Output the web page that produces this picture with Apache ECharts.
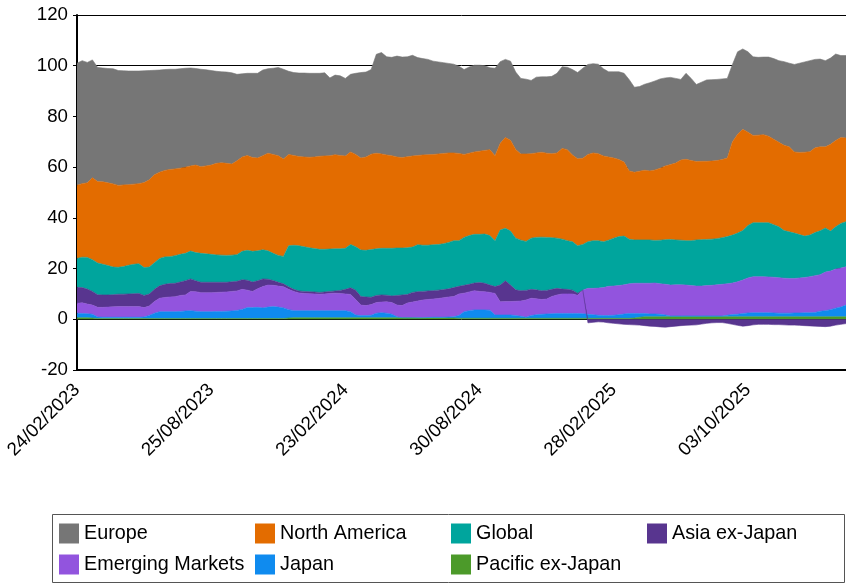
<!DOCTYPE html>
<html>
<head>
<meta charset="utf-8">
<script src="https://cdn.jsdelivr.net/npm/echarts@6/dist/echarts.min.js"></script>
<style>
html,body{margin:0;padding:0;background:#fff;}
#chart{width:846px;height:583px;}
</style>
</head>
<body>
<div id="chart"></div>
<script>
// ---- Data ----
const seriesNames = ['Pacific ex-Japan','Japan','Emerging Markets','Asia ex-Japan','Global','North America','Europe'];
const legendOrder = ['Europe','North America','Global','Asia ex-Japan','Emerging Markets','Japan','Pacific ex-Japan'];
const yTicks = [-20, 0, 20, 40, 60, 80, 100, 120];
const skippedWeeks = ['29/03/2024','18/04/2025','23/05/2025','20/06/2025','18/07/2025','15/08/2025'];

const pacificExJapan = [
0.6,0.6,0.6,0.5,0.3,0.3,0.3,0.3,0.3,0.3,
0.3,0.3,0.3,0.3,0.3,0.3,0.3,0.3,0.3,0.3,
0.3,0.3,0.3,0.3,0.3,0.3,0.3,0.3,0.3,0.3,
0.3,0.3,0.3,0.3,0.3,0.3,0.3,0.3,0.3,0.3,
0.3,0.5,0.6,0.6,0.6,0.6,0.6,0.6,0.6,0.6,
0.6,0.6,0.6,0.6,0.6,0.6,0.6,0.6,0.6,0.6,
0.6,0.6,0.6,0.6,0.6,0.6,0.5,0.5,0.5,0.5,
0.5,0.5,0.5,0.5,0.4,0.4,0.4,0.4,0.4,0.4,
0.4,0.4,0.4,0.4,0.4,0.4,0.4,0.4,0.4,0.4,
0.4,0.4,0.4,0.4,0.4,0.4,0.4,0.4,0.4,0.4,
0.4,0.4,0.4,0.4,0.4,0.4,0.4,0.4,0.5,0.8,
1.0,1.0,1.0,1.0,1.0,1.0,1.0,1.0,1.0,1.0,
1.0,1.0,1.0,1.0,1.0,1.0,1.0,1.0,1.0,1.0,
1.0,1.0,1.0,1.0,1.0,1.0,1.0,1.0,1.0,1.0,
1.0,1.0,1.0,1.0,1.0,1.0,1.0,1.0,1.0,1.0];

const japan = [
1.8,1.7,1.6,1.5,0.6,0.5,0.5,0.5,0.5,0.5,
0.5,0.5,0.5,0.6,1.2,2.1,2.7,2.7,2.7,2.7,
2.8,3.0,3.1,2.9,2.7,2.7,2.7,2.8,2.8,2.9,
3.0,3.2,3.6,4.3,4.3,4.4,4.2,4.5,4.7,4.5,
4.2,3.3,2.8,2.8,2.8,2.8,2.8,2.8,2.8,2.8,
2.8,2.8,2.8,2.4,1.1,0.9,0.9,1.0,1.8,2.0,
1.8,1.4,0.4,0.0,0.0,0.0,0.1,0.1,0.2,0.3,
0.3,0.3,0.4,0.5,1.1,2.6,3.0,3.3,3.3,3.3,
3.2,1.3,1.3,1.3,1.3,1.1,0.8,0.4,1.1,1.4,
1.6,1.7,1.8,1.9,1.9,1.9,1.9,1.9,1.8,1.6,
1.4,1.2,1.1,1.1,1.2,1.4,1.7,1.9,1.8,1.5,
1.3,1.1,1.1,1.0,0.7,0.3,0.3,0.3,0.3,0.3,
0.3,0.3,0.3,0.3,0.3,0.3,0.6,0.9,1.0,1.3,
1.5,1.6,1.6,1.6,1.6,1.5,1.4,1.4,1.4,1.5,
1.5,1.6,1.6,1.7,2.2,2.4,2.8,3.4,3.8,4.6];

const emergingMarkets = [
3.9,4.2,3.8,3.6,3.8,3.9,4.0,4.1,4.2,4.2,
4.2,4.2,4.2,3.7,3.7,4.6,5.3,5.6,5.8,5.9,
6.3,6.3,7.6,7.7,7.5,7.5,7.5,7.5,7.6,7.6,
7.7,7.7,7.9,6.9,6.4,7.3,8.4,8.7,8.4,8.3,
8.3,8.0,7.6,7.0,6.8,6.7,6.6,6.5,6.6,6.8,
6.9,6.8,6.6,6.8,6.1,4.1,3.9,4.2,4.2,4.2,
4.5,4.6,4.6,4.8,5.8,6.2,6.6,7.0,7.1,7.2,
7.4,7.7,7.9,8.0,8.5,7.3,7.4,7.6,7.3,7.2,
7.0,8.5,5.2,5.3,5.3,5.6,6.0,6.8,6.8,6.3,
5.8,5.9,6.8,7.3,7.7,7.7,7.7,7.2,9.3,10.2,
10.4,10.7,11.0,11.5,11.5,11.5,11.5,11.7,11.9,11.9,
11.9,12.1,12.2,12.0,12.1,12.2,12.3,12.3,12.2,12.0,
11.8,11.8,12.0,12.1,12.3,12.5,12.4,12.4,12.8,13.2,
13.8,14.2,14.2,14.2,14.1,14.1,14.0,13.8,13.7,13.6,
13.8,13.9,14.2,14.5,14.4,15.2,15.2,15.4,15.4,15.1];

const asiaExJapan = [
6.3,6.0,5.9,5.4,5.0,4.9,4.8,4.8,4.9,4.9,
5.0,5.1,5.2,4.8,4.8,4.8,4.9,5.2,5.3,5.3,
5.3,5.6,4.9,4.3,4.1,4.1,4.1,4.0,3.9,3.8,
3.8,3.8,3.8,3.9,3.7,3.2,3.0,2.3,1.9,1.5,
1.2,1.0,0.8,0.8,0.8,0.8,0.8,0.7,0.8,0.8,
0.9,1.2,1.8,2.6,3.7,3.4,3.4,2.9,2.8,2.8,
2.6,2.6,3.8,4.2,3.4,3.8,3.7,3.4,3.4,3.3,
3.3,3.2,3.2,3.5,3.0,3.1,3.0,3.0,3.5,3.3,
2.9,2.7,6.6,8.2,6.5,4.5,4.1,3.8,3.5,3.5,
3.5,3.4,2.8,2.6,1.9,1.8,1.5,0.8,0.0,-1.4,
-1.2,-1.0,-1.1,-1.4,-1.6,-1.8,-2.0,-2.1,-2.2,-2.3,
-2.5,-2.7,-2.8,-3.0,-3.1,-2.9,-2.7,-2.5,-2.4,-2.3,
-2.2,-1.9,-1.6,-1.4,-1.3,-1.3,-1.6,-2.0,-2.4,-2.7,
-2.5,-2.2,-2.0,-2.0,-2.0,-2.1,-2.1,-2.2,-2.3,-2.3,
-2.4,-2.5,-2.6,-2.7,-2.8,-2.9,-2.7,-2.3,-2.0,-1.7];

const global = [
11.4,12.0,12.5,12.5,12.5,12.1,11.6,10.9,10.6,10.9,
11.3,11.6,11.7,11.0,10.6,10.5,10.8,10.8,10.6,10.9,
10.9,10.8,11.0,11.1,11.4,11.2,11.0,10.8,10.7,10.6,
10.5,10.5,11.2,11.8,12.1,11.8,11.5,11.2,10.7,10.6,
10.8,16.2,17.4,17.8,17.6,17.3,17.1,17.0,16.8,16.7,
16.6,16.4,16.2,17.1,17.1,18.3,18.4,18.8,18.4,18.4,
18.5,18.8,18.7,18.5,18.4,17.9,18.5,18.2,18.0,18.1,
18.0,18.1,18.3,18.5,18.0,18.9,19.2,19.2,19.0,19.4,
19.5,18.1,21.7,20.7,21.3,20.4,19.9,19.3,20.2,20.7,
21.1,20.9,20.4,19.8,19.7,19.2,19.1,18.7,18.0,18.4,
18.8,18.7,18.1,18.2,18.9,19.3,19.2,17.6,17.1,17.1,
17.1,17.1,16.8,17.2,17.6,18.0,17.7,17.6,17.5,17.7,
18.2,18.3,18.2,18.2,18.2,18.4,18.6,18.9,19.2,19.5,
20.7,21.3,21.3,21.3,21.4,20.7,20.1,18.8,18.4,17.9,
17.1,16.3,16.4,17.0,17.3,17.4,15.8,16.7,17.6,17.8];

const northAmerica = [
28.9,29.0,29.4,32.3,32.1,32.5,32.6,32.8,32.3,32.2,
31.8,31.6,31.6,33.5,34.4,34.7,34.0,34.1,34.4,34.2,
34.0,34.0,33.6,34.5,34.2,34.7,35.2,36.1,36.4,36.3,
35.9,37.0,37.2,37.4,37.0,36.6,37.1,38.5,39.0,39.3,
38.4,36.0,35.4,35.2,35.4,35.7,36.1,36.7,36.8,36.8,
37.1,36.8,36.4,36.5,36.4,36.3,36.8,37.6,37.7,37.2,
36.8,36.5,35.9,35.7,35.9,35.9,35.2,35.6,35.7,35.6,
35.7,35.6,35.3,34.6,34.4,32.7,32.5,32.5,32.8,33.0,
33.9,33.5,34.2,35.8,35.8,35.0,34.0,34.5,33.3,33.3,
33.5,33.2,33.1,33.6,35.8,35.9,34.2,34.3,34.0,34.4,
34.6,34.3,33.8,32.8,31.6,30.4,29.2,26.9,26.7,27.1,
27.5,27.2,27.8,28.4,29.1,29.5,30.3,31.6,32.1,31.6,
30.9,30.9,30.8,30.8,30.8,30.8,31.0,36.8,39.0,39.9,
36.8,34.4,34.5,34.7,34.1,33.7,33.3,33.6,33.5,32.0,
32.4,33.1,32.9,33.4,33.1,32.0,34.2,34.0,33.9,33.0];

const europe = [
48.1,48.5,47.5,46.5,45.0,44.9,45.1,45.4,45.3,45.0,
44.8,44.6,44.4,44.1,43.1,41.2,40.3,39.8,39.5,39.3,
39.2,39.0,38.6,38.1,38.4,37.9,37.3,36.3,35.9,36.0,
36.0,34.1,32.8,32.4,33.2,33.4,33.8,33.3,34.0,34.8,
35.4,32.8,32.7,32.9,33.1,33.1,33.0,32.7,32.8,30.7,
31.4,31.4,30.6,30.6,32.0,33.7,33.5,33.4,39.0,40.0,
38.7,38.8,39.8,39.6,39.4,39.7,38.6,38.0,37.6,36.8,
36.3,35.8,35.3,35.0,34.4,33.5,34.0,34.2,33.9,33.4,
32.3,34.5,32.2,30.8,31.2,30.5,29.8,29.5,28.9,29.9,
29.7,30.1,30.5,31.4,32.2,32.5,33.7,34.0,35.5,35.5,
35.2,35.3,34.4,33.6,34.0,34.6,35.0,36.0,33.5,33.4,
33.9,34.8,35.1,35.2,34.7,34.4,33.4,31.8,33.9,32.4,
30.4,31.2,32.1,32.1,32.0,31.8,31.4,30.5,32.5,31.7,
31.7,31.0,30.7,30.6,31.2,31.8,32.2,33.0,33.0,34.5,
35.2,35.6,35.9,34.9,34.6,34.0,34.0,34.1,32.3,32.5];

const seriesValues = [pacificExJapan, japan, emergingMarkets, asiaExJapan, global, northAmerica, europe];
const seriesColors = ['#4C9A2A','#0F8BEF','#9254DE','#58358F','#00A59D','#E36C00','#767676'];

// weekly category dates (Fridays), with the weeks missing from the source removed
function buildDates(n) {
  const out = [];
  let t = Date.UTC(2023, 1, 24);
  while (out.length < n) {
    const d = new Date(t);
    const s = String(d.getUTCDate()).padStart(2, '0') + '/' +
              String(d.getUTCMonth() + 1).padStart(2, '0') + '/' + d.getUTCFullYear();
    if (!skippedWeeks.includes(s)) out.push(s);
    t += 7 * 86400000;
  }
  return out;
}
const dates = buildDates(europe.length);

const FONT = '"Liberation Sans", Arial, sans-serif';
const chart = echarts.init(document.getElementById('chart'), null, {renderer: 'canvas'});

const series = seriesNames.map((name, k) => ({
  name: name,
  type: 'line',
  stack: 'total',
  data: seriesValues[k],
  symbol: 'none',
  showSymbol: false,
  smooth: false,
  itemStyle: {color: seriesColors[k]},
  lineStyle: {width: 0.6, color: seriesColors[k]},
  areaStyle: {color: seriesColors[k], opacity: 1},
  emphasis: {disabled: true},
  silent: true
}));

chart.setOption({
  animation: false,
  backgroundColor: '#ffffff',
  grid: {left: 77, right: 0, top: 15, bottom: 213, containLabel: false},
  xAxis: {
    type: 'category',
    data: dates,
    boundaryGap: false,
    axisLine: {show: true, onZero: false, lineStyle: {color: '#000', width: 2}},
    axisTick: {show: false},
    axisLabel: {interval: 25, rotate: 45, fontSize: 18.7, color: '#000', fontFamily: FONT, margin: 17},
    splitLine: {show: false}
  },
  yAxis: {
    type: 'value',
    min: yTicks[0],
    max: yTicks[yTicks.length - 1],
    interval: 20,
    axisLine: {show: true, lineStyle: {color: '#000', width: 2}},
    axisTick: {show: true, length: 4, lineStyle: {color: '#000'}},
    axisLabel: {fontSize: 18.7, color: '#000', fontFamily: FONT, margin: 9},
    splitLine: {show: true, lineStyle: {color: '#000', width: 1}}
  },
  legend: {
    data: legendOrder,
    left: 59,
    top: 518,
    width: 790,
    padding: 0,
    itemGap: 0,
    itemWidth: 20,
    itemHeight: 20,
    icon: 'rect',
    selectedMode: false,
    textStyle: {fontSize: 19.8, color: '#000', fontFamily: FONT, width: 171, height: 31, lineHeight: 31}
  },
  graphic: [{
    type: 'rect',
    left: 50,
    top: 512,
    shape: {width: 792, height: 68},
    style: {fill: 'none', stroke: '#555', lineWidth: 1},
    silent: true
  }],
  series: series
});
</script>
</body>
</html>
